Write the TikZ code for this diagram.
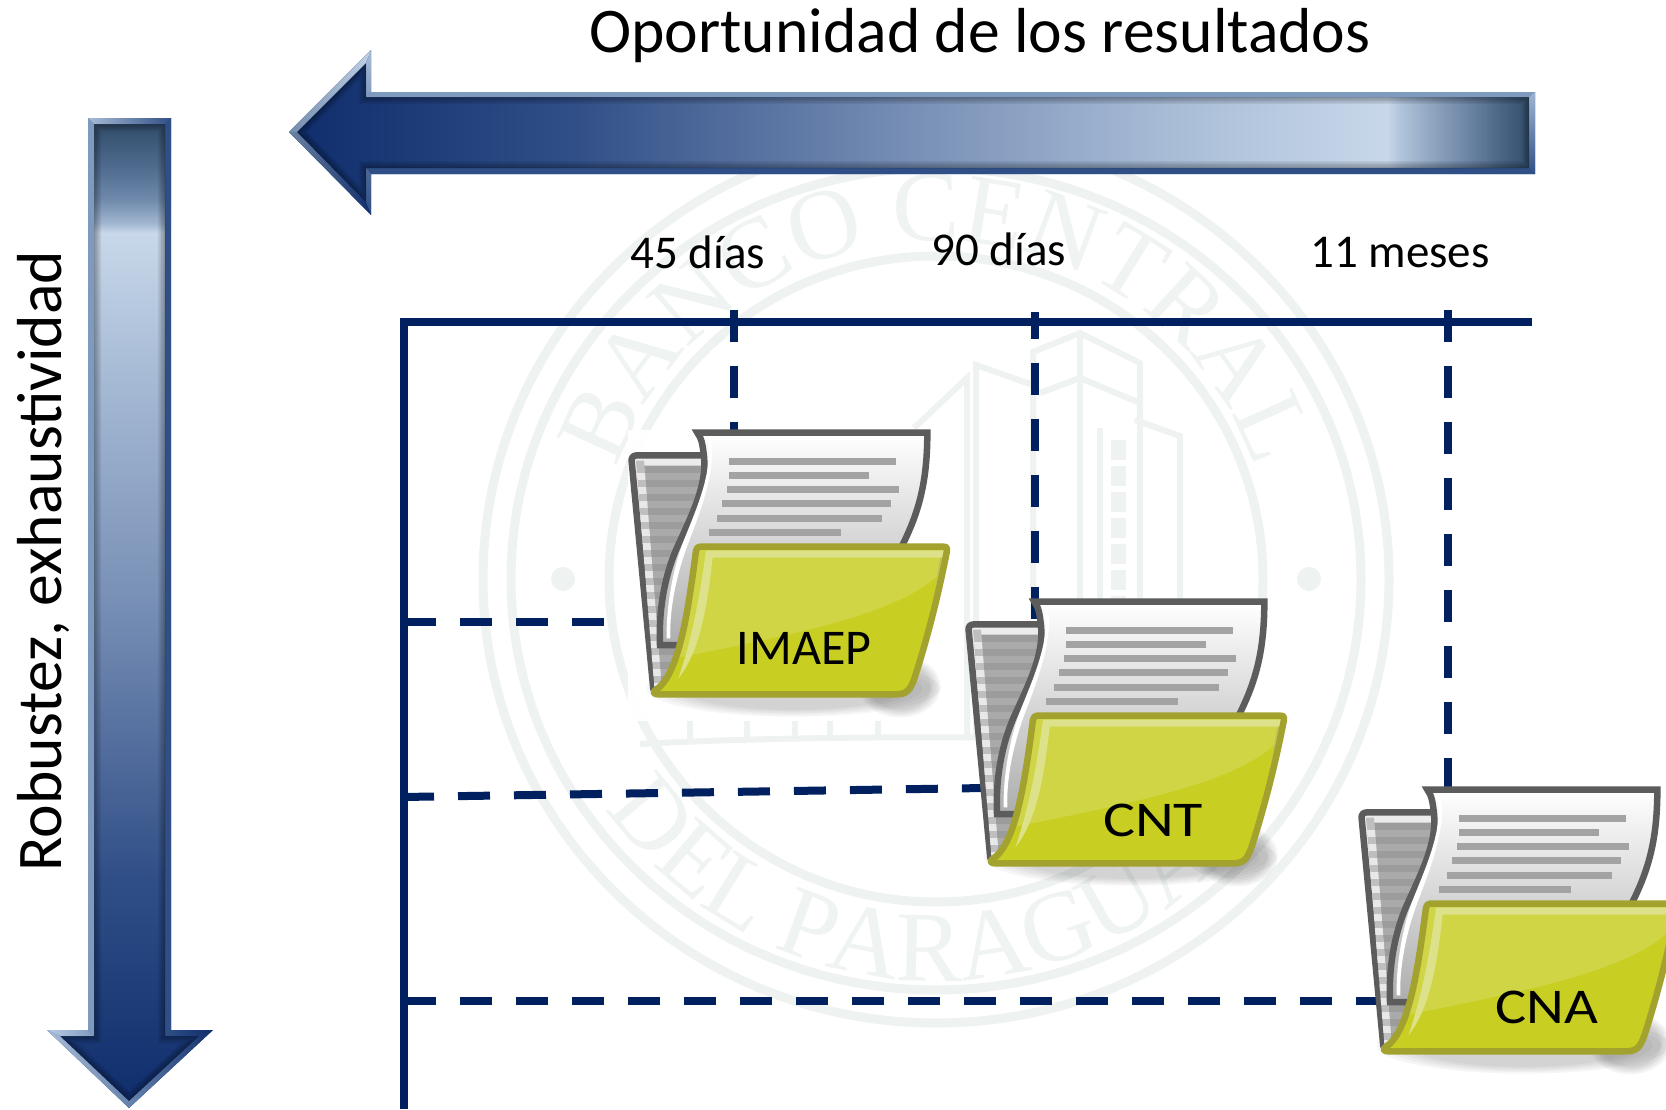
\documentclass[tikz,border=0pt]{standalone}
\usepackage{fontspec}
\setmainfont{Carlito}
\newfontfamily\sealfam{Liberation Serif}
\usetikzlibrary{decorations.text}
\definecolor{axisc}{HTML}{002060}
\definecolor{sealc}{HTML}{EEF2F0}
\definecolor{sealt}{HTML}{EFF3F1}
\definecolor{ddk}{HTML}{0F2D6B}
\definecolor{dmid}{HTML}{2F4D86}
\definecolor{dlow}{HTML}{7890B6}
\definecolor{dlt}{HTML}{A8BCD6}
\definecolor{dhi}{HTML}{C8D8EA}
\definecolor{sa}{HTML}{B0C3DA}
\definecolor{sb}{HTML}{8EA4BF}
\definecolor{sc}{HTML}{6C85A5}
\definecolor{sd}{HTML}{4B6685}
\definecolor{va}{HTML}{A0B5CF}
\definecolor{vb}{HTML}{6E89AB}
\definecolor{vc}{HTML}{4F6C8F}
\definecolor{dend}{HTML}{2D4865}
\definecolor{bord}{HTML}{7F9ABF}
\definecolor{bordd}{HTML}{2F4F86}
\definecolor{bordl}{HTML}{A0B6D2}
\definecolor{folderdk}{HTML}{5C5C5C}
\definecolor{greenf}{HTML}{C8CF22}
\definecolor{greenb}{HTML}{A3A22F}
\definecolor{greeng}{HTML}{CFD544}
\definecolor{greenh}{HTML}{DDE28A}
\pgfdeclarehorizontalshading{toparrow}{100bp}{color(0bp)=(ddk);color(25bp)=(ddk);color(36bp)=(dmid);color(50.1bp)=(dlow);color(60.3bp)=(dlt);color(69.06bp)=(dhi);color(69.6bp)=(sa);color(70.9bp)=(sb);color(72.3bp)=(sc);color(73.6bp)=(sd);color(75bp)=(dend);color(100bp)=(dend)}
\pgfdeclareverticalshading{leftarrow}{100bp}{color(0bp)=(ddk);color(25bp)=(ddk);color(36.3bp)=(dmid);color(50.7bp)=(dlow);color(62.4bp)=(dlt);color(69.2bp)=(dhi);color(69.7bp)=(va);color(70.9bp)=(vb);color(72.5bp)=(vc);color(75bp)=(dend);color(100bp)=(dend)}
\def\sealfont{\sealfam\fontsize{100}{100}\selectfont\color{sealt}}
\tikzset{
  ring/.style={draw=sealc,line width=9pt},
  bldg/.style={draw=sealc,line width=6pt,line join=miter},
  axisline/.style={draw=axisc,line width=8pt},
  dashline/.style={draw=axisc,line width=8pt,dash pattern=on 32pt off 24pt},
  lab/.style={font=\fontsize{47}{52}\selectfont,text=black,inner sep=0pt},
  flab/.style={font=\fontsize{50}{54}\selectfont,text=black,inner sep=0pt},
  ttl/.style={font=\fontsize{63.6}{70}\selectfont,text=black,inner sep=0pt},
}
\newcommand{\innershadow}{%
  \foreach \w in {2,5,8,11,14}{\draw[black,opacity=.07,line width=\w pt] \shapepath;}}
\newcommand{\drawfolder}[2]{%
\begin{scope}[shift={(#1,#2)},x=.33333pt,y=-.33333pt]
  % shadow
  \foreach \s in {1,.94,.88,.82,.76}{
    \fill[black,opacity=.035] (580,865) ellipse ({440*\s} and {85*\s});
    \fill[black,opacity=.04] (900,860) ellipse ({122*\s} and {92*\s});
  }
  % back of the folder
  \filldraw[draw=folderdk,fill=gray!15,line width=6.5pt,line join=round]
    (160,868) -- (95,185) .. controls (93,172) and (100,166) .. (112,166) -- (330,166) -- (330,868) -- cycle;
  \begin{scope}
    \clip (132,197) -- (330,197) -- (330,860) -- (185,860) -- cycle;
    \fill[gray!78!white] (100,190) rectangle (340,870);
    \foreach \y in {218,260,...,860} {\fill[gray!67!white] (100,\y) rectangle (340,\y+21);}
  \end{scope}
  \begin{scope}
    \clip (108,182) -- (132,182) -- (185,860) -- (163,860) -- cycle;
    \fill[gray!50!white] (100,180) rectangle (200,870);
    \foreach \y in {218,260,...,860} {\fill[gray!18!white] (100,\y) rectangle (200,\y+21);}
  \end{scope}
  % paper
  \shade[top color=white,bottom color=gray!65!white]
    (292,98) -- (982,98) .. controls (982,250) and (955,340) .. (905,440) -- (905,745) -- (180,735)
    .. controls (176,640) and (190,540) .. (228,450) .. controls (268,360) and (322,260) .. (312,170)
    .. controls (308,135) and (305,115) .. (292,98) -- cycle;
  \draw[folderdk,line width=6.5pt,line join=miter]
    (905,440) .. controls (955,340) and (982,250) .. (982,98) -- (292,98)
    .. controls (305,115) and (308,135) .. (312,170) .. controls (322,260) and (268,360) .. (228,450)
    .. controls (190,540) and (176,640) .. (180,735) -- (260,735);
  \fill[white] (320,118) .. controls (345,210) and (283,340) .. (248,430)
    .. controls (215,520) and (198,630) .. (200,715) -- (211,715)
    .. controls (208,630) and (228,530) .. (261,440) .. controls (295,350) and (352,210) .. (332,118) -- cycle;
  \foreach \a/\b/\c in {388/888/175,388/806/217,382/898/259,367/873/301,351/846/345,327/723/388}
    {\fill[gray!72!white] (\a,\c) rectangle (\b,\c+20);}
  % front of the folder
  \begin{scope}
    \clip (300,440) -- (1030,440) .. controls (1040,440) and (1043,444) .. (1041,452)
      .. controls (1012,600) and (980,720) .. (945,830) .. controls (930,873) and (920,883) .. (885,883)
      -- (175,883) .. controls (163,883) and (158,878) .. (164,872)
      .. controls (235,830) and (262,650) .. (288,452) .. controls (290,444) and (294,440) .. (300,440) -- cycle;
    \fill[greenf] (140,420) rectangle (1060,900);
    \fill[greeng] (290,440) -- (1045,440) -- (1020,520) .. controls (900,640) and (600,700) .. (225,775) -- cycle;
    \fill[greenh] (318,452) -- (1045,452) -- (1040,473) -- (338,473)
      .. controls (320,640) and (295,760) .. (235,835) .. controls (272,730) and (298,600) .. (318,452) -- cycle;
    \fill[greenb!50!greenh] (1020,475) .. controls (1000,600) and (980,720) .. (945,830)
      .. controls (985,730) and (1020,600) .. (1042,465) -- cycle;
  \end{scope}
  \draw[greenb,line width=6.5pt,line join=round]
    (300,440) -- (1030,440) .. controls (1040,440) and (1043,444) .. (1041,452)
      .. controls (1012,600) and (980,720) .. (945,830) .. controls (930,873) and (920,883) .. (885,883)
      -- (175,883) .. controls (163,883) and (158,878) .. (164,872)
      .. controls (235,830) and (262,650) .. (288,452) .. controls (290,444) and (294,440) .. (300,440) -- cycle;
\end{scope}}
\begin{document}
\begin{tikzpicture}[x=1pt,y=-1pt]
\useasboundingbox (0,0) rectangle (1666,1109);
\clip (0,0) rectangle (1666,1109);
\fill[white] (0,0) rectangle (1666,1109);
% ---------- watermark seal
\begin{scope}[shift={(936,579)},x=1pt,y=1pt]
  \draw[ring] (0,0) ellipse (453 and 444);
  \draw[ring] (0,0) ellipse (425 and 411);
  \draw[ring] (0,0) ellipse (327 and 323);
  \fill[sealc] (-373,0) circle (12);
  \fill[sealc] (373,0) circle (12);
  \path[decorate,decoration={text along path,text align={align=center},
      text={|\sealfont|BANCO CENTRAL}}]
      (166:338) arc (166:14:338);
  \path[decorate,decoration={text along path,text align={align=center},
      text={|\sealfont|DEL PARAGUAY}}]
      (205:402) arc (205:335:402);
\end{scope}
\draw[bldg] (914,428) -- (967,378) -- (967,740);
\draw[bldg] (976,740) -- (976,365) -- (1033,385);
\draw[bldg] (1033,615) -- (1033,352) -- (1080,333) -- (1140,363) -- (1140,760);
\draw[bldg] (1080,333) -- (1080,760);
\draw[bldg] (1040,393) -- (1080,378) -- (1140,403);
\draw[bldg] (1135,420) -- (1180,436) -- (1180,760);
\draw[bldg] (1100,428) -- (1100,760);
\draw[draw=sealc,line width=15pt,dash pattern=on 20pt off 6pt] (1118,440) -- (1118,760);
\draw[bldg] (640,744) .. controls (800,735) and (1070,735) .. (1232,744);
\foreach \x in {690,747,795,830,878} {\draw[bldg] (\x,720) -- (\x,740);}
% ---------- top arrow
\shade[shading=toparrow] (289,132) -- (371,50) -- (371,92) -- (1535,92) -- (1535,174) -- (371,174) -- (371,215) -- cycle;
\fill[bord] (371,92) -- (1535,92) -- (1529,97) -- (366,97) -- cycle;
\fill[bordd] (1535,174) -- (371,174) -- (366,168) -- (1529,168) -- cycle;
\shade[top color=bordl,bottom color=bordd] (1535,92) -- (1535,174) -- (1529,168) -- (1529,97) -- cycle;
\shade[left color=bord!90!black,right color=dhi!90!bord] (289,132) -- (371,50) -- (366,63) -- (297,132) -- cycle;
\shade[top color=dlt,bottom color=bord] (371,50) -- (371,92) -- (366,97) -- (366,63) -- cycle;
\shade[top color=bordd!85!white,bottom color=bordd] (371,174) -- (371,215) -- (366,202) -- (366,168) -- cycle;
\shade[left color=bord!85!black,right color=ddk] (371,215) -- (289,132) -- (297,132) -- (366,202) -- cycle;
\begin{scope}
  \def\shapepath{(297,132) -- (366,63) -- (366,97) -- (1529,97) -- (1529,168) -- (366,168) -- (366,202) -- cycle}
  \clip \shapepath;
  \innershadow
\end{scope}
% ---------- left arrow
\shade[shading=leftarrow] (88,118) -- (171,118) -- (171,1030) -- (213,1030) -- (129,1108) -- (47,1030) -- (88,1030) -- cycle;
\shade[left color=dlt,right color=bordd] (88,118) -- (171,118) -- (165,124) -- (94,124) -- cycle;
\fill[bord] (88,118) -- (94,124) -- (94,1036) -- (88,1030) -- cycle;
\fill[bordd] (171,118) -- (165,124) -- (165,1036) -- (171,1030) -- cycle;
\shade[left color=dhi!80!bord,right color=bord] (47,1030) -- (88,1030) -- (94,1036) -- (60,1036) -- cycle;
\shade[left color=bordd,right color=ddk] (171,1030) -- (213,1030) -- (199,1036) -- (165,1036) -- cycle;
\shade[left color=dlt,right color=bord!70!bordd] (47,1030) -- (60,1036) -- (129,1101) -- (129,1108) -- cycle;
\shade[left color=bord!70!bordd,right color=ddk] (213,1030) -- (199,1036) -- (129,1101) -- (129,1108) -- cycle;
\begin{scope}
  \def\shapepath{(94,124) -- (165,124) -- (165,1036) -- (199,1036) -- (129,1101) -- (60,1036) -- (94,1036) -- cycle}
  \clip \shapepath;
  \innershadow
\end{scope}
% ---------- axes
\coordinate (axO) at (404,322);
\coordinate (axR) at (1532,322);
\coordinate (axB) at (404,1109);
\draw[axisline] (400,322) -- (axR);
\draw[axisline] (axO) -- (axB);
\coordinate (vA0) at (734,310);
\coordinate (vA1) at (734,440);
\coordinate (vB0) at (1035,312);
\coordinate (vB1) at (1035,625);
\coordinate (vC0) at (1448,310);
\coordinate (vC1) at (1448,790);
\coordinate (hA1) at (620,622);
\coordinate (hB0) at (402,797);
\coordinate (hB1) at (985,788);
\coordinate (hC0) at (404,1001);
\coordinate (hC1) at (1380,1001);
\draw[dashline] (vA0) -- (vA1);
\draw[dashline,dash phase=5pt] (vB0) -- (vB1);
\draw[dashline] (vC0) -- (vC1);
\draw[dashline] (404,622) -- (hA1);
\draw[dashline] (hB0) -- (hB1);
\draw[dashline] (hC0) -- (hC1);
% ---------- folders
\fill[white,opacity=.95] (628,430) rectangle (960,721);
\drawfolder{600}{400}
\drawfolder{937}{569}
\drawfolder{1330}{757}
% ---------- labels
\node[flab] (imaep) at (804,648) {IMAEP};
\node[flab] (cnt) at (1153,820) {\scalebox{1.2}[1]{CNT}};
\node[flab] (cna) at (1547,1007) {\scalebox{1.17}[1]{CNA}};
\node[lab] (d45) at (698,252) {45 días};
\node[lab] (d90) at (999,249) {90 días};
\node[lab] (m11) at (1400,253) {11 meses};
\node[ttl] (title) at (980,36) {Oportunidad de los resultados};
\node[ttl,rotate=90] (robust) at (43,561) {Robustez, exhaustividad};
\end{tikzpicture}
\end{document}
